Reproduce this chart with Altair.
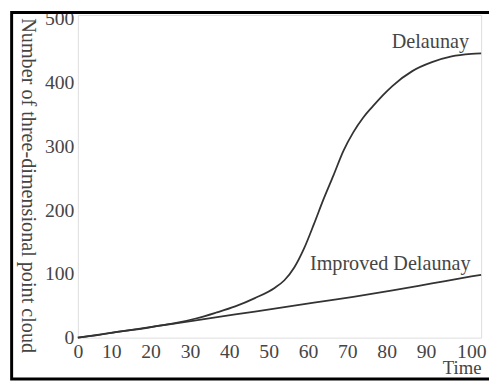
import altair as alt
import pandas as pd

# Data
time_delaunay = [0, 5, 10, 15, 20, 25, 30, 35, 40, 45, 50, 52.5, 55, 57.5, 60, 62.5,
                 65, 67.5, 70, 72.5, 75, 77.5, 80, 85, 90, 95, 100, 102.5]
delaunay = [0, 4, 9, 13, 18, 23, 30, 39, 49, 62, 78, 90, 110, 140, 178, 218,
            255, 293, 322, 345, 363, 380, 395, 418, 432, 441, 445, 446]

time_improved = [0, 10, 20, 30, 40, 50, 60, 70, 80, 90, 100, 102.5]
improved = [0, 9, 18, 27, 36.5, 45.5, 55, 64, 74, 85, 96, 98.6]

label_text = ["Delaunay", "Improved Delaunay"]
label_time = [89.6, 79.4]
label_value = [455, 106.5]

x_ticks = [0, 10, 20, 30, 40, 50, 60, 70, 80, 90, 100]
y_ticks = [0, 100, 200, 300, 400, 500]

FONT = "Liberation Serif"
TXT = "#454545"
LINE = "#333333"

df = pd.concat([
    pd.DataFrame({"Time": time_delaunay, "Value": delaunay, "Series": "Delaunay"}),
    pd.DataFrame({"Time": time_improved, "Value": improved, "Series": "Improved Delaunay"}),
])
labels = pd.DataFrame({"Time": label_time, "Value": label_value, "Text": label_text})

xscale = alt.Scale(domain=[0, 102.5], nice=False, zero=False)
yscale = alt.Scale(domain=[0, 506], nice=False)

x_axis = alt.Axis(
    values=x_ticks, grid=False, domain=False, ticks=False, tickSize=0,
    labelFont=FONT, labelFontSize=20, labelColor=TXT, labelPadding=4,
    labelFlush=False,
    labelOffset=alt.ExprRef("datum.value == 0 || datum.value == 100 ? 0 : -6"),
    title="Time", titleFont=FONT, titleFontSize=19, titleFontWeight="normal",
    titleColor=TXT, titleX=410, titleY=36, titleAlign="right",
    titleBaseline="alphabetic", titleAnchor="end",
)
y_axis = alt.Axis(
    values=y_ticks, grid=False, domain=False, ticks=False, tickSize=0,
    labelFont=FONT, labelFontSize=20, labelColor=TXT, labelPadding=4,
    labelFlush=False,
    title="Number of three-dimensional point cloud", titleFont=FONT,
    titleFontSize=20.5, titleFontWeight="normal", titleColor=TXT,
    titleAngle=90, titleX=-51, titleY=173, titleAlign="center",
    titleBaseline="middle",
)

lines = alt.Chart(df).mark_line(color=LINE, strokeWidth=1.8, interpolate="monotone").encode(
    x=alt.X("Time:Q", scale=xscale, axis=x_axis),
    y=alt.Y("Value:Q", scale=yscale, axis=y_axis),
    detail="Series:N",
)

texts = alt.Chart(labels).mark_text(
    font=FONT, fontSize=20.5, color=TXT, align="center", baseline="alphabetic"
).encode(
    x=alt.X("Time:Q", scale=xscale),
    y=alt.Y("Value:Q", scale=yscale),
    text="Text:N",
)

frame = alt.Chart(pd.DataFrame({"a": [0]})).mark_rect(
    fill=None, stroke="black", strokeWidth=3, clip=False
).encode(
    x=alt.value(-67.3), x2=alt.value(425), y=alt.value(-2.5), y2=alt.value(370)
)

chart = alt.layer(lines, texts, frame).properties(
    width=410, height=328,
    autosize=alt.AutoSizeParams(type="none"),
    padding={"left": 71, "top": 4, "right": 8, "bottom": 44},
).configure_view(stroke="#7a7a7a", strokeWidth=2.5).configure(background="white")

chart.save("out.html", embed_options={"renderer": "svg", "actions": False})
